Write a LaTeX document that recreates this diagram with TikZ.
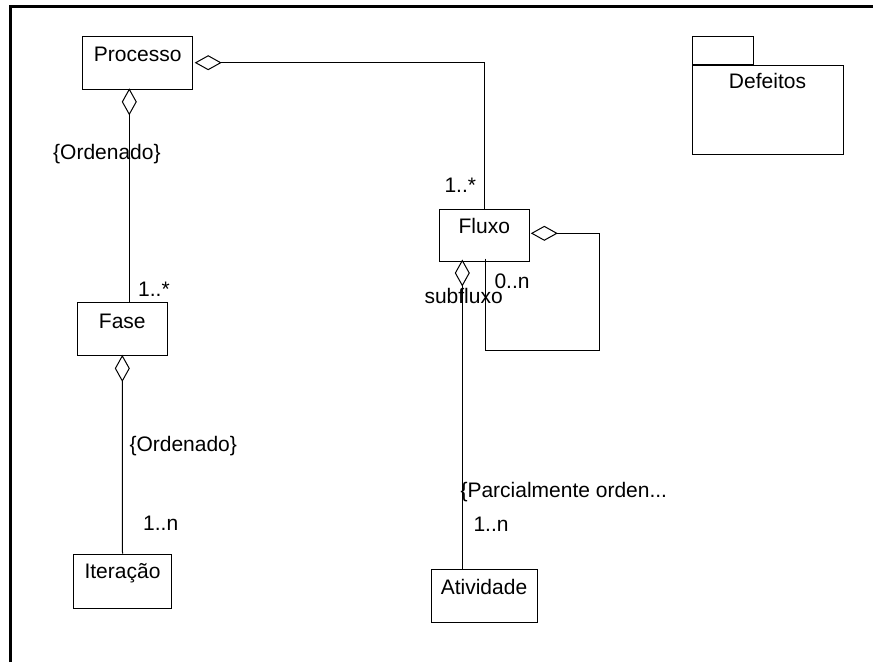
\documentclass[tikz,border=0pt]{standalone}
\usepackage{fontspec}
\setmainfont{Liberation Sans}
\usetikzlibrary{arrows.meta,calc}
\begin{document}
\begin{tikzpicture}[x=1pt,y=-1pt,line join=miter,line width=1pt,
		cls/.style={draw,rectangle,minimum height=53pt,inner sep=0pt},
		txt/.style={inner sep=0pt,anchor=base west},
		ttl/.style={inner sep=0pt,anchor=base},
		aggr/.style={-{Diamond[open,length=27pt,width=15pt]}}]
			\tikzset{every node/.style={font=\fontsize{21}{25}\selectfont}}
			\useasboundingbox (0,0) rectangle (873,662);
			\draw[line width=3pt] (10,662)--(10,6.5)--(873,6.5);
			% classes
			\node[cls,minimum width=110pt] (processo) at (137.7,62.7) {};
			\node[cls,minimum width=90pt] (fase) at (122.3,329.4) {};
			\node[cls,minimum width=98.4pt,minimum height=54pt] (iteracao) at (122.5,581) {};
			\node[cls,minimum width=90pt,minimum height=52pt] (fluxo) at (484.3,235) {};
			\node[cls,minimum width=106pt] (atividade) at (484,596.4) {};
			\node[ttl] (processo-t) at ([yshift=-25.8pt]processo.north) {Processo};
			\node[ttl] (fase-t) at ([yshift=-26pt]fase.north) {Fase};
			\node[ttl] (iteracao-t) at ([yshift=-25.3pt]iteracao.north) {Iteração};
			\node[ttl] (fluxo-t) at ([yshift=-25pt]fluxo.north) {Fluxo};
			\node[ttl] (atividade-t) at ([yshift=-25pt]atividade.north) {Atividade};
			% package
			\node[cls,minimum width=151pt,minimum height=89pt] (defeitos) at (767.5,109.5) {};
			\node[cls,minimum width=61pt,minimum height=27.7pt,anchor=south west] (defeitos-tab) at (defeitos.north west) {};
			\node[ttl] (defeitos-t) at ([yshift=-24pt]defeitos.north) {Defeitos};
			% aggregations
			\draw[aggr] (fluxo.north) |- ([xshift=1.5pt]processo.east);
			\draw[aggr] ([xshift=7pt]fase.north) -- ([xshift=7pt,yshift=1.4pt]fase.north |- processo.south);
			\draw[aggr] (iteracao.north) -- ([yshift=1.5pt]fase.south);
			\draw[aggr] ([xshift=-21.7pt]atividade.north) -- ([xshift=-21.7pt,yshift=2pt]atividade.north |- fluxo.south);
			\coordinate (loop) at (599.3,350);
			\draw[aggr] ([xshift=1pt,yshift=3pt]fluxo.south) |- (loop) |- ([xshift=1pt,yshift=1.7pt]fluxo.east);
			% labels
			\node[txt] (ord1) at (52.7,159) {\{Ordenado\}};
			\node[txt] (mult1) at (137.7,296.7) {1..*};
			\node[txt] (ord2) at (129,451.7) {\{Ordenado\}};
			\node[txt] (mult2) at (142.7,530.7) {1..n};
			\node[txt] (mult3) at (444,192) {1..*};
			\node[txt] (mult4) at (494,288) {0..n};
			\node[txt] (sub) at (424,303) {subfluxo};
			\node[txt] (parc) at (460,497) {\{Parcialmente orden...};
			\node[txt] (mult5) at (473,531.7) {1..n};
	\end{tikzpicture}
\end{document}
